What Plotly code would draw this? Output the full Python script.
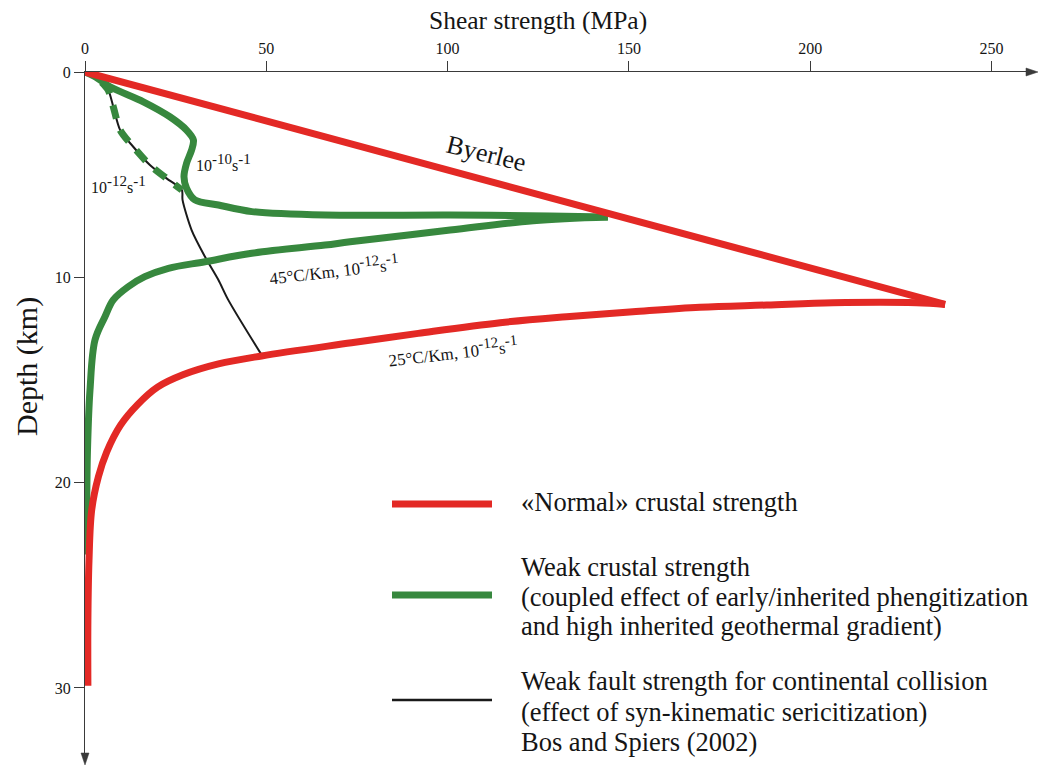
import plotly.graph_objects as go

# ---------------- data (MPa, km) ----------------
red_brittle_x = [0, 237.2]
red_brittle_y = [0, 11.32]
red_ductile_x = [237.2, 229.3, 206.3, 188.0, 169.6, 151.1, 132.8, 114.5, 91.9, 73.5, 48.7, 36.8, 27.0, 20.0, 14.5, 9.8, 6.0, 3.7, 1.85, 1.1, 0.8, 0.8]
red_ductile_y = [11.32, 11.24, 11.24, 11.35, 11.46, 11.68, 11.92, 12.21, 12.73, 13.19, 13.83, 14.22, 14.75, 15.35, 16.2, 17.2, 18.5, 19.71, 21.33, 23.8, 26.7, 29.9]

green_upper_x = [0, 3.0, 6.9, 16.1, 23.4, 28.0, 29.9, 29.4, 28.0, 27.3, 28.0, 30.3, 36.8, 46.0, 66.2, 100.7, 128.2, 144.2]
green_upper_y = [0, 0.25, 0.72, 1.45, 2.18, 2.83, 3.31, 3.80, 4.45, 5.10, 5.66, 6.23, 6.48, 6.80, 6.97, 6.97, 7.01, 7.06]
green_lower_x = [144.2, 123.6, 100.7, 73.1, 66.2, 46.0, 33.1, 23.0, 16.5, 11.9, 7.8, 5.5, 2.76, 1.38, 0.69, 0.47, 0.41]
green_lower_y = [7.06, 7.24, 7.70, 8.27, 8.43, 8.83, 9.24, 9.56, 9.97, 10.46, 11.1, 11.92, 13.05, 15.49, 18.4, 21.3, 23.5]
green_dashed_x = [4.6, 6.4, 7.8, 9.7, 13.3, 17.9, 22.5, 26.7]
green_dashed_y = [0.5, 0.88, 1.69, 2.83, 3.64, 4.53, 5.18, 5.75]

black_x = [0, 4.1, 6.4, 7.8, 9.7, 13.3, 17.9, 22.5, 26.7, 26.9, 29.4, 33.1, 36.8, 39.5, 48.7]
black_y = [0, 0.39, 0.88, 1.69, 2.83, 3.64, 4.53, 5.18, 5.75, 6.23, 7.70, 9.0, 10.13, 11.1, 13.78]

x_ticks = [0, 50, 100, 150, 200, 250]
y_ticks = [0, 10, 20, 30]

legend_lines = [
    ["«Normal» crustal strength"],
    ["Weak crustal strength",
     "(coupled effect of early/inherited phengitization",
     "and high inherited geothermal gradient)"],
    ["Weak fault strength for continental collision",
     "(effect of syn-kinematic sericitization)",
     "Bos and Spiers (2002)"],
]

RED = "#E32925"
GREEN = "#37883E"
BLACK = "#1A1A1A"
AX = "#3a3a3a"
TXT = "#151515"
FONT = "Liberation Serif"

W, H = 1039, 766
L, R, T, B = 85, 4, 72, 4
PW, PH = W - L - R, H - T - B
XMAX = PW / 3.626
YMAX = PH / 20.53


def px(x):
    return (x - L) / PW


def py(y):
    return 1 - (y - T) / PH


def sup(t, size):
    return f"<sup><span style='font-size:{size}px'>{t}</span></sup>"


fig = go.Figure()
fig.add_trace(go.Scatter(x=black_x, y=black_y, mode="lines", line=dict(color=BLACK, width=2, shape="spline", smoothing=0.8), showlegend=False))
fig.add_trace(go.Scatter(x=green_dashed_x, y=green_dashed_y, mode="lines", line=dict(color=GREEN, width=7, dash="14px,12px", shape="spline", smoothing=0.8), showlegend=False))
fig.add_trace(go.Scatter(x=green_upper_x, y=green_upper_y, mode="lines", line=dict(color=GREEN, width=7, shape="spline", smoothing=0.9), showlegend=False))
fig.add_trace(go.Scatter(x=green_lower_x, y=green_lower_y, mode="lines", line=dict(color=GREEN, width=7, shape="spline", smoothing=1.0), showlegend=False))
fig.add_trace(go.Scatter(x=red_brittle_x, y=red_brittle_y, mode="lines", line=dict(color=RED, width=7), showlegend=False))
fig.add_trace(go.Scatter(x=red_ductile_x, y=red_ductile_y, mode="lines", line=dict(color=RED, width=7, shape="spline", smoothing=1.0), showlegend=False))

annotations = []
# in-plot labels
annotations.append(dict(x=110.6, y=3.95, xref="x", yref="y", text="Byerlee", showarrow=False, textangle=14,
                        font=dict(family=FONT, size=26, color=TXT)))
annotations.append(dict(x=38.3, y=4.43, xref="x", yref="y", text="10" + sup("-10", 15) + "s" + sup("-1", 15), showarrow=False,
                        font=dict(family=FONT, size=16, color=TXT)))
annotations.append(dict(x=9.1, y=5.46, xref="x", yref="y", text="10" + sup("-12", 15) + "s" + sup("-1", 15), showarrow=False,
                        font=dict(family=FONT, size=16, color=TXT)))
annotations.append(dict(x=68.7, y=9.6, xref="x", yref="y", text="45°C/Km, 10" + sup("-12", 15) + "s" + sup("-1", 15), showarrow=False,
                        textangle=-6.5, font=dict(family=FONT, size=17, color=TXT)))
annotations.append(dict(x=101.5, y=13.6, xref="x", yref="y", text="25°C/Km, 10" + sup("-12", 15) + "s" + sup("-1", 15), showarrow=False,
                        textangle=-6.5, font=dict(family=FONT, size=17, color=TXT)))

# axis titles
annotations.append(dict(x=px(538), y=py(21), xref="paper", yref="paper", text="Shear strength (MPa)", showarrow=False,
                        xanchor="center", yanchor="middle", font=dict(family=FONT, size=25.5, color=TXT)))
annotations.append(dict(x=px(27), y=py(367), xref="paper", yref="paper", text="Depth (km)", showarrow=False, textangle=-90,
                        xanchor="center", yanchor="middle", font=dict(family=FONT, size=30, color=TXT)))

# custom legend
swatch_y = [504, 595, 700]
text_rows = [[502], [567, 597, 626], [681, 712, 742]]
swatch_col = [RED, GREEN, BLACK]
swatch_w = [7, 7, 2.5]
shapes = []
for lines, sy, rows, c, w in zip(legend_lines, swatch_y, text_rows, swatch_col, swatch_w):
    shapes.append(dict(type="line", xref="paper", yref="paper", x0=px(392), x1=px(492), y0=py(sy), y1=py(sy),
                       line=dict(color=c, width=w)))
    for t, ty in zip(lines, rows):
        annotations.append(dict(x=px(519), y=py(ty), xref="paper", yref="paper", text=t, showarrow=False,
                                xanchor="left", yanchor="middle", align="left",
                                font=dict(family=FONT, size=26.5, color=TXT)))

# arrow heads on axes
shapes.append(dict(type="path", xref="paper", yref="paper",
                   path=f"M {px(1026)} {py(68)} L {px(1038)} {py(72)} L {px(1026)} {py(76)} Z",
                   fillcolor=AX, line=dict(color=AX, width=0.5)))
shapes.append(dict(type="path", xref="paper", yref="paper",
                   path=f"M {px(81)} {py(753)} L {px(85)} {py(765)} L {px(89)} {py(753)} Z",
                   fillcolor=AX, line=dict(color=AX, width=0.5)))

fig.update_layout(
    width=W, height=H,
    margin=dict(l=L, r=R, t=T, b=B, pad=0),
    paper_bgcolor="white", plot_bgcolor="white",
    showlegend=False,
    annotations=annotations,
    shapes=shapes,
    xaxis=dict(range=[0, XMAX], side="top", showline=True, linecolor=AX, linewidth=1.3,
               ticks="outside", ticklen=10, tickwidth=1.3, tickcolor=AX,
               tickvals=x_ticks, ticktext=[str(v) for v in x_ticks],
               tickfont=dict(family=FONT, size=16, color=TXT),
               showgrid=False, zeroline=False, fixedrange=True),
    yaxis=dict(range=[YMAX, 0], showline=True, linecolor=AX, linewidth=1.3,
               ticks="outside", ticklen=10, tickwidth=1.3, tickcolor=AX,
               tickvals=y_ticks, ticktext=[str(v) for v in y_ticks],
               tickfont=dict(family=FONT, size=16, color=TXT),
               showgrid=False, zeroline=False, fixedrange=True),
)

fig.write_html("out.html", config={"displayModeBar": False},
               post_script="document.body.style.margin='0';document.body.style.overflow='hidden';")
